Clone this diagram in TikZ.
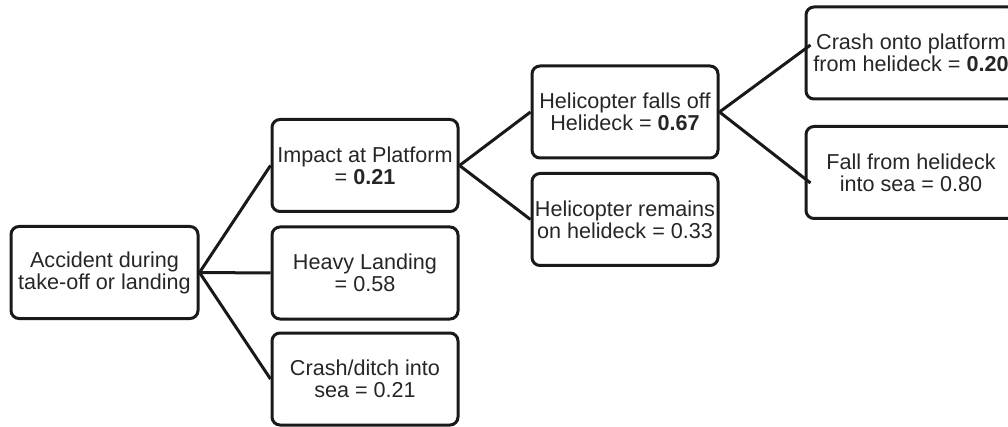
\documentclass[tikz,border=0pt]{standalone}
\usepackage{fontspec}
\setmainfont{Liberation Sans}
\begin{document}
\begin{tikzpicture}[x=1pt,y=-1pt,
  box/.style={draw=black!90, line width=3pt, rounded corners=8pt,
    minimum width=186pt, minimum height=92pt, inner sep=0pt,
    align=center, font=\fontsize{21.6}{22}\selectfont, text=black!85},
  widebox/.style={box, minimum width=210pt},
  link/.style={line width=3pt, draw=black!90}]
\useasboundingbox (0,0) rectangle (1008,427);
\clip (0,0) rectangle (1008,427);
\node[box, minimum width=187pt] (acc) at (104.5,272.5) {Accident during\\take-off or landing};
\node[box] (imp) at (365,165.5) {Impact at Platform\\= \textbf{0.21}};
\node[box] (heavy) at (365,273) {Heavy Landing\\= 0.58};
\node[box] (crash) at (365,379) {Crash/ditch into\\sea = 0.21};
\node[box] (hfo) at (625,112) {Helicopter falls off\\Helideck = \textbf{0.67}};
\node[box] (hr) at (625,219.5) {Helicopter remains\\on helideck = 0.33};
\node[widebox] (cop) at (911,53) {Crash onto platform\\from helideck = \textbf{0.20}};
\node[widebox] (fall) at (911,172.5) {Fall from helideck\\into sea = 0.80};
\draw[link] (acc.east) -- (imp.west);
\draw[link] (acc.east) -- (heavy.west);
\draw[link] (acc.east) -- (crash.west);
\draw[link] (imp.east) -- (hfo.west);
\draw[link] (imp.east) -- (hr.west);
\draw[link] (hfo.east) -- ([xshift=6pt,yshift=8pt]cop.west);
\draw[link] (hfo.east) -- ([xshift=6pt,yshift=-10.5pt]fall.west);
\end{tikzpicture}
\end{document}
